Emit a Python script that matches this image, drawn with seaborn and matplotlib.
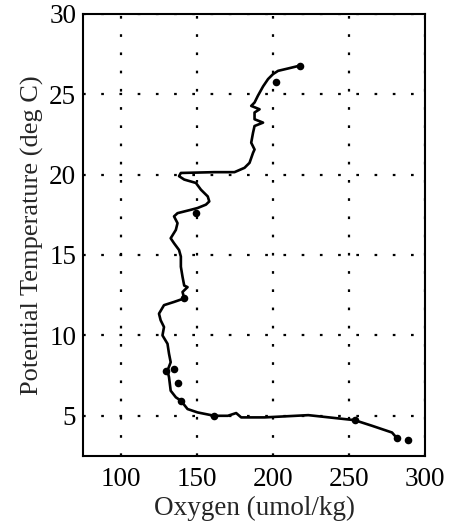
import matplotlib
matplotlib.use("Agg")
import matplotlib.pyplot as plt
import seaborn as sns
import pandas as pd

# Profile trace (surface -> deep)
oxygen = [217.4, 210.0, 203.3, 200.0, 196.7, 193.4, 190.0, 187.8, 185.6, 191.1,
          187.8, 187.8, 193.4, 187.8, 186.8, 185.6, 187.8, 186.8, 184.5, 181.2,
          174.6, 161.3, 139.3, 138.1, 141.5, 149.2, 152.5, 157.0, 158.0, 155.8,
          150.3, 145.9, 137.1, 134.8, 137.1, 136.0, 132.6, 134.8, 138.1, 139.3,
          139.3, 140.4, 141.5, 143.7, 140.4, 141.5, 134.8, 128.2, 124.9, 126.0,
          128.2, 127.2, 130.5, 131.5, 132.6, 130.5, 131.5, 132.6, 136.0, 139.3,
          143.7, 150.3, 161.3, 170.2, 175.7, 179.0, 194.4, 223.2, 240.8, 253.6,
          265.1, 278.3, 281.6, 281.6]
temperature = [26.77, 26.60, 26.45, 26.25, 25.94, 25.48, 24.90, 24.48, 24.27, 24.06,
               23.86, 23.44, 23.23, 23.02, 22.60, 21.98, 21.56, 21.35, 20.73, 20.42,
               20.15, 20.15, 20.10, 19.90, 19.69, 19.48, 19.06, 18.64, 18.33, 18.13,
               17.92, 17.81, 17.60, 17.40, 16.98, 16.56, 16.04, 15.73, 15.31, 14.90,
               14.27, 13.64, 13.10, 13.00, 12.70, 12.30, 12.08, 11.88, 11.35, 10.94,
               10.52, 10.00, 9.48, 8.86, 8.33, 7.81, 7.40, 6.56, 6.15, 5.94,
               5.42, 5.21, 5.00, 5.00, 5.17, 4.90, 4.90, 5.04, 4.86, 4.73,
               4.38, 3.96, 3.60, 3.54]

# Bottle samples
bottle_oxygen = [217.4, 202.2, 149.2, 141.5, 134.8, 129.3, 137.1, 139.3, 161.3, 253.6, 281.6, 288.9]
bottle_temp = [26.77, 25.77, 17.60, 12.30, 7.92, 7.80, 7.04, 5.94, 5.00, 4.73, 3.60, 3.48]

x_ticks = [100, 150, 200, 250, 300]
y_ticks = [5, 10, 15, 20, 25, 30]

profile = pd.DataFrame({"oxygen": oxygen, "temp": temperature})
bottles = pd.DataFrame({"oxygen": bottle_oxygen, "temp": bottle_temp})

sns.set_style("white")
plt.rcParams["font.family"] = ["Liberation Serif", "DejaVu Serif"]

fig = plt.figure(figsize=(4.57, 5.29), dpi=100)
ax = fig.add_axes([0.182, 0.138, 0.748, 0.836])

sns.lineplot(data=profile, x="oxygen", y="temp", sort=False, estimator=None,
             color="black", linewidth=1.9, ax=ax)
sns.scatterplot(data=bottles, x="oxygen", y="temp", color="black", s=30,
                edgecolor="black", linewidth=0, ax=ax, zorder=3)

ax.set_xlim(75, 300)
ax.set_ylim(2.5, 30)
ax.set_xticks(x_ticks)
ax.set_yticks(y_ticks)
ax.grid(True, color="black", linestyle=(0, (1.2, 7)), linewidth=1.6)
ax.set_axisbelow(True)

for s in ax.spines.values():
    s.set_color("black")
    s.set_linewidth(1.5)

ax.tick_params(direction="in", length=4, width=1, colors="black", labelsize=19.5)
ax.tick_params(axis="x", pad=8)
ax.tick_params(axis="y", pad=5)
ax.set_xlabel("Oxygen (umol/kg)", fontsize=19.5, labelpad=3)
ax.set_ylabel("Potential Temperature (deg C)", fontsize=19, labelpad=4)

fig.savefig("out.png", dpi=100)
